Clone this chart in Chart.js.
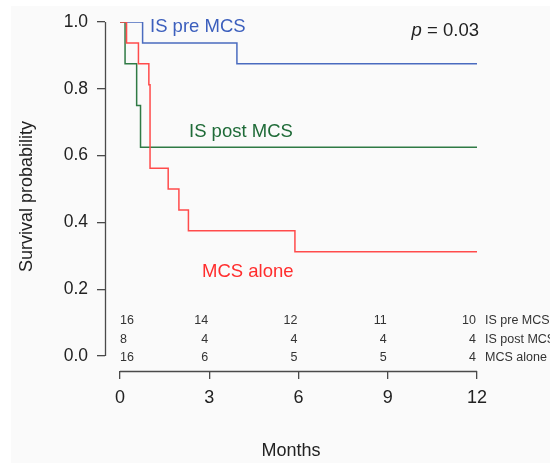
<!DOCTYPE html>
<html><head><meta charset="utf-8">
<script src="https://cdn.jsdelivr.net/npm/chart.js@4/dist/chart.umd.min.js"></script>
<style>html,body{margin:0;padding:0;background:#fff;overflow:hidden}#wrap{width:550px;height:463px;position:relative}</style>
</head><body><div id="wrap"><canvas id="c" width="550" height="463"></canvas></div>
<script>
// Kaplan-Meier step data (months, survival probability)
const preTimes   = [0, 0.76, 3.93, 12];
const preSurv    = [1, 0.9375, 0.875, 0.875];
const postTimes  = [0, 0.17, 0.56, 0.69, 12];
const postSurv   = [1, 0.875, 0.75, 0.625, 0.625];
const aloneTimes = [0, 0.22, 0.62, 0.97, 1.01, 1.62, 1.98, 2.30, 5.88, 12];
const aloneSurv  = [1, 0.9375, 0.875, 0.8125, 0.5625, 0.5, 0.4375, 0.375, 0.3125, 0.3125];

const groupNames = ['IS pre MCS', 'IS post MCS', 'MCS alone'];
const xTicks = [0, 3, 6, 9, 12];
const yTicks = [0, 0.2, 0.4, 0.6, 0.8, 1.0];
const riskTimes = [0, 3, 6, 9, 12];
const riskPre   = [16, 14, 12, 11, 10];
const riskPost  = [8, 4, 4, 4, 4];
const riskAlone = [16, 6, 5, 5, 4];
const pValue = '0.03';

const FONT = '"Liberation Sans", Arial, Helvetica, sans-serif';
const C_BLUE = '#4a6bbf', C_GREEN = '#2f7a45', C_RED = '#ff4b4b';
const T_BLUE = '#3c5fbd', T_GREEN = '#1f6b38', T_RED = '#ff2d2d';

function pts(t, s) { return t.map((x, i) => ({ x: x, y: s[i] })); }

const bgPlugin = {
  id: 'bg',
  beforeDraw(chart) {
    const c = chart.ctx;
    c.save();
    c.fillStyle = '#ffffff'; c.fillRect(0, 0, chart.width, chart.height);
    c.fillStyle = '#fafafa'; c.fillRect(11, 6, chart.width - 11, chart.height - 6);
    c.restore();
  }
};

const annotPlugin = {
  id: 'annot',
  afterDraw(chart) {
    const ctx = chart.ctx, xs = chart.scales.x, ys = chart.scales.y, a = chart.chartArea;
    ctx.save();
    ctx.strokeStyle = '#4a4a4a'; ctx.lineWidth = 1.3;
    ctx.beginPath();
    ctx.moveTo(xs.getPixelForValue(xTicks[0]), Math.round(a.bottom) + 0.5);
    ctx.lineTo(xs.getPixelForValue(xTicks[xTicks.length - 1]), Math.round(a.bottom) + 0.5);
    ctx.moveTo(Math.round(a.left) + 0.5, ys.getPixelForValue(yTicks[0]));
    ctx.lineTo(Math.round(a.left) + 0.5, ys.getPixelForValue(yTicks[yTicks.length - 1]));
    ctx.stroke();

    ctx.textBaseline = 'alphabetic';
    ctx.textAlign = 'left';
    ctx.font = '18.5px ' + FONT;
    ctx.fillStyle = T_BLUE;  ctx.fillText(groupNames[0], 150, 32);
    ctx.fillStyle = T_GREEN; ctx.fillText(groupNames[1], 189, 137);
    ctx.fillStyle = T_RED;   ctx.fillText(groupNames[2], 202, 277);

    ctx.fillStyle = '#222';
    ctx.textAlign = 'right';
    const rest = ' = ' + pValue;
    const rw = ctx.measureText(rest).width;
    ctx.fillText(rest, 479, 36);
    ctx.font = 'italic 18.5px ' + FONT;
    ctx.fillText('p', 479 - rw, 36);

    ctx.font = '12.5px ' + FONT;
    ctx.fillStyle = '#333';
    const rows = [riskPre, riskPost, riskAlone];
    const baselines = [324, 343, 361];
    rows.forEach((r, ri) => {
      r.forEach((v, i) => {
        const px = xs.getPixelForValue(riskTimes[i]);
        if (i === 0) { ctx.textAlign = 'left'; ctx.fillText(String(v), px, baselines[ri]); }
        else { ctx.textAlign = 'right'; ctx.fillText(String(v), px - 1, baselines[ri]); }
      });
      ctx.textAlign = 'left';
      ctx.fillText(groupNames[ri], 485, baselines[ri]);
    });
    ctx.restore();
  }
};

new Chart(document.getElementById('c'), {
  type: 'scatter',
  data: {
    datasets: [
      { label: groupNames[0], data: pts(preTimes, preSurv), borderColor: C_BLUE, order: 3 },
      { label: groupNames[1], data: pts(postTimes, postSurv), borderColor: C_GREEN, order: 2 },
      { label: groupNames[2], data: pts(aloneTimes, aloneSurv), borderColor: C_RED, order: 1 }
    ].map(d => Object.assign(d, { showLine: true, stepped: true, borderWidth: 1.5, pointRadius: 0, pointHoverRadius: 0, fill: false }))
  },
  options: {
    responsive: false,
    animation: false,
    events: [],
    layout: { padding: { left: 0, top: 22, right: 73, bottom: 0 } },
    plugins: { legend: { display: false }, tooltip: { enabled: false } },
    scales: {
      x: {
        type: 'linear', min: -0.504, max: 12,
        afterBuildTicks(s) { s.ticks = xTicks.map(v => ({ value: v })); },
        afterFit(s) { s.height = 92; },
        border: { display: false },
        grid: { drawOnChartArea: false, drawTicks: true, tickLength: 8, color: '#4a4a4a', lineWidth: 1.3 },
        ticks: { color: '#222', font: { family: FONT, size: 18 }, padding: 8, maxRotation: 0, autoSkip: false, callback: v => String(v) },
        title: { display: true, text: 'Months', color: '#222', font: { family: FONT, size: 18 }, padding: { top: 0, bottom: 1 } }
      },
      y: {
        type: 'linear', min: -0.0449, max: 1,
        afterBuildTicks(s) { s.ticks = yTicks.map(v => ({ value: v })); },
        afterFit(s) { s.width = 105; },
        border: { display: false },
        grid: { drawOnChartArea: false, drawTicks: true, tickLength: 8, color: '#4a4a4a', lineWidth: 1.3 },
        ticks: { color: '#222', font: { family: FONT, size: 17.5 }, padding: 9, autoSkip: false, callback: v => Number(v).toFixed(1) },
        title: { display: true, text: 'Survival probability', color: '#222', font: { family: FONT, size: 18 }, padding: { top: 16, bottom: 0 } }
      }
    }
  },
  plugins: [bgPlugin, annotPlugin]
});
</script>
</body></html>
